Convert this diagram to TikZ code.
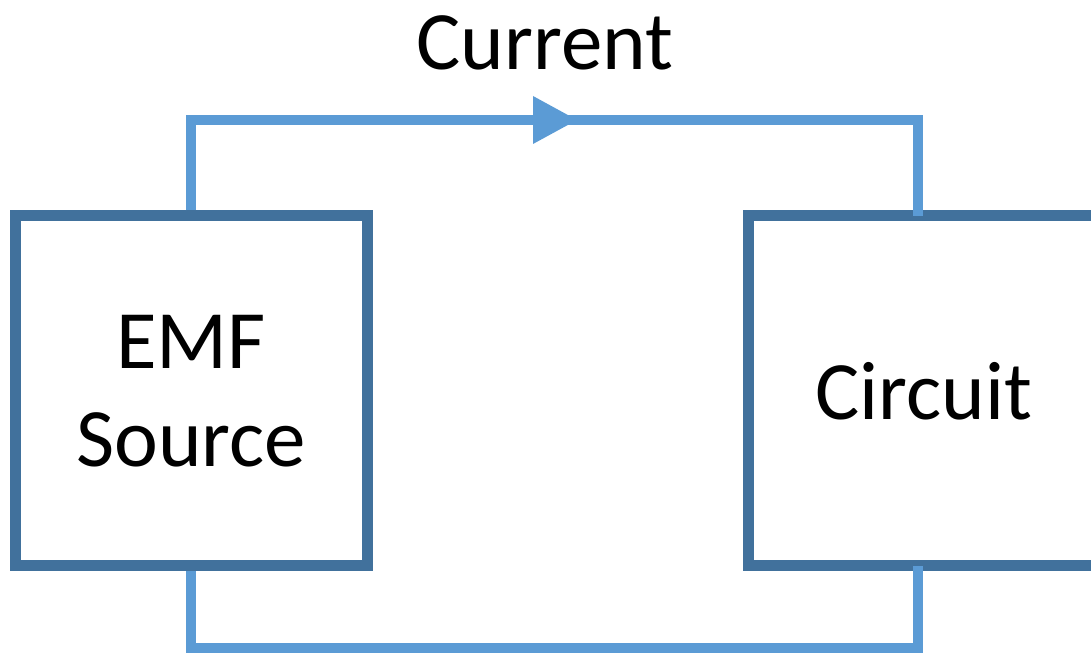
\documentclass[tikz,border=0pt]{standalone}
\usepackage{fontspec}
\setmainfont{Carlito}
\definecolor{boxc}{HTML}{41719C}
\definecolor{wirec}{HTML}{5B9BD5}
\tikzset{
  blk/.style={draw=boxc, line width=11pt, minimum width=352pt, minimum height=350pt, inner sep=0pt, align=center, font=\fontsize{83}{98}\selectfont},
  wire/.style={draw=wirec, line width=10pt},
  lbl/.style={font=\fontsize{83}{98}\selectfont, inner sep=0pt}
}
\begin{document}
\begin{tikzpicture}[x=1pt,y=1pt]
\useasboundingbox (0,0) rectangle (1091,655);
\node[blk] (emf) at (191,264) {EMF\\Source};
\node[blk] (circ) at (924,264) {Circuit};
\coordinate (ct) at (918,439);
\coordinate (cb) at (918,89);
\coordinate (tl) at (191,535);
\coordinate (tr) at (918,535);
\coordinate (bl) at (191,7);
\coordinate (br) at (918,7);
\draw[wire] (emf.north) -- (tl) -- (tr) -- (ct);
\draw[wire] (emf.south) -- (bl) -- (br) -- (cb);
\fill[wirec] (533,559) -- (577,535) -- (533,511) -- cycle;
\node[lbl] (cur) at (545,612) {Current};
\end{tikzpicture}
\end{document}
